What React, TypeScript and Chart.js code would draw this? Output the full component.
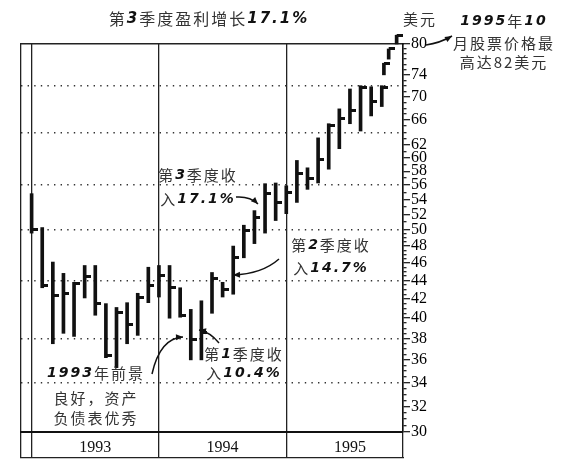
import React, { useEffect, useRef } from 'react';
import { Chart, registerables } from 'chart.js';

Chart.register(...registerables);

// Month index 0 = Jan 1993
const monthIndex = [
  0, 1, 2, 3, 4, 5, 6, 7, 8, 9, 10, 11,
  12, 13, 14, 15, 16, 17, 18, 19, 20, 21, 22, 23,
  24, 25, 26, 27, 28, 29, 30, 31, 32, 33,
];
const highs = [
  54.8, 50.3, 46.1, 44.8, 43.8, 45.7, 45.7, 41.5, 41.1, 41.6, 42.6, 45.5,
  45.7, 45.7, 43.2, 40.9, 41.8, 44.9, 43.8, 48.0, 50.6, 52.5, 56.2, 56.3,
  55.9, 59.6, 58.5, 63.1, 65.4, 67.9, 71.4, 72.0, 71.8, 72.0,
];
const lows = [
  49.6, 43.2, 37.5, 38.5, 38.2, 42.1, 40.3, 36.2, 35.3, 37.5, 38.3, 41.6,
  42.2, 40.0, 40.1, 36.0, 36.0, 40.5, 42.2, 42.5, 46.6, 48.3, 49.6, 51.2,
  52.1, 53.6, 55.4, 56.3, 58.3, 61.4, 65.4, 64.2, 66.7, 68.3,
];
const closes = [
  50.0, 43.5, 42.4, 42.6, 43.7, 44.5, 41.5, 36.4, 40.6, 39.4, 42.2, 43.5,
  44.6, 43.2, 40.3, 37.9, 38.6, 44.2, 43.0, 46.6, 49.9, 51.6, 54.8, 53.6,
  54.9, 57.6, 56.9, 59.7, 65.1, 66.2, 67.6, 71.6, 69.1, 71.6,
];
// late October 1995 run-up to 82
const lateX = [33.2, 33.65, 34.4];
const lateHigh = [76.2, 79.0, 81.8];
const lateLow = [74.0, 77.0, 80.0];
const lateClose = [76.2, 79.0, 81.8];

const yearLabels = ['1993', '1994', '1995'];
const yearCenters = [6, 18, 30];
const yearDividers = [-1, 0, 12, 24, 35];

const yLabelValues = [30, 32, 34, 36, 38, 40, 42, 44, 46, 48, 50, 52, 54, 56, 58, 60, 62, 66, 70, 74, 80];
const yGridValues = [34, 38, 44, 50, 56, 64, 72];

function buildYTicks(): number[] {
  const out: number[] = [];
  for (let v = 30; v < 50; v += 0.5) out.push(v);
  for (let v = 50; v <= 80; v += 1) out.push(v);
  return out;
}

type Ann = { lines: string[]; cx: number; ys: number[]; size: number; plain?: boolean[] };
const annotations: Ann[] = [
  { lines: ['第3季度盈利增长17.1%'], cx: 208, ys: [19], size: 16 },
  { lines: ['美元'], cx: 419, ys: [19], size: 15 },
  { lines: ['1995年10', '月股票价格最', '高达82美元'], cx: 503, ys: [21, 43, 62], size: 15, plain: [false, false, true] },
  { lines: ['第3季度收', '入17.1%'], cx: 197, ys: [175, 199], size: 15 },
  { lines: ['第2季度收', '入14.7%'], cx: 330, ys: [245, 268], size: 15 },
  { lines: ['第1季度收', '入10.4%'], cx: 243, ys: [354, 373], size: 15 },
  { lines: ['1993年前景', '良好，资产', '负债表优秀'], cx: 95, ys: [373, 398, 418], size: 15 },
];

type Arrow = { from: [number, number]; ctrl: [number, number]; to: [number, number] };
const arrows: Arrow[] = [
  { from: [426, 45], ctrl: [440, 43], to: [452, 36] },
  { from: [236, 197], ctrl: [250, 196], to: [258, 204] },
  { from: [279, 259], ctrl: [262, 274], to: [233, 275] },
  { from: [219, 343], ctrl: [210, 332], to: [199, 330] },
  { from: [152, 374], ctrl: [160, 338], to: [183, 337] },
];

function drawTextLine(ctx: CanvasRenderingContext2D, s: string, cx: number, cy: number, size: number, plain: boolean) {
  const cjkFont = `${size}px "Noto Sans CJK SC"`;
  const digFont = `italic bold ${size - 1}px "DejaVu Sans"`;
  const spacing = 2;
  const chars = Array.from(s).map((ch) => {
    const d = !plain && /[0-9.%]/.test(ch);
    ctx.font = d ? digFont : cjkFont;
    return { ch, d, w: ctx.measureText(ch).width };
  });
  const total = chars.reduce((a, c) => a + c.w, 0) + spacing * (chars.length - 1);
  let x = cx - total / 2;
  ctx.textBaseline = 'middle';
  ctx.textAlign = 'left';
  for (const c of chars) {
    ctx.font = c.d ? digFont : cjkFont;
    ctx.fillStyle = c.d ? '#111' : '#333';
    ctx.fillText(c.ch, x, cy);
    x += c.w + spacing;
  }
}

const annotationPlugin = {
  id: 'annotationPlugin',
  afterDraw(chart: any) {
    const ctx: CanvasRenderingContext2D = chart.ctx;
    ctx.save();
    for (const a of annotations) {
      a.lines.forEach((line, i) => drawTextLine(ctx, line, a.cx, a.ys[i], a.size, !!(a.plain && a.plain[i])));
    }
    ctx.strokeStyle = '#111';
    ctx.fillStyle = '#111';
    ctx.lineWidth = 1.5;
    for (const ar of arrows) {
      ctx.beginPath();
      ctx.moveTo(ar.from[0], ar.from[1]);
      ctx.quadraticCurveTo(ar.ctrl[0], ar.ctrl[1], ar.to[0], ar.to[1]);
      ctx.stroke();
      const ang = Math.atan2(ar.to[1] - ar.ctrl[1], ar.to[0] - ar.ctrl[0]);
      const L = 7, W = 3;
      ctx.beginPath();
      ctx.moveTo(ar.to[0], ar.to[1]);
      ctx.lineTo(ar.to[0] - L * Math.cos(ang) + W * Math.sin(ang), ar.to[1] - L * Math.sin(ang) - W * Math.cos(ang));
      ctx.lineTo(ar.to[0] - L * Math.cos(ang) - W * Math.sin(ang), ar.to[1] - L * Math.sin(ang) + W * Math.cos(ang));
      ctx.closePath();
      ctx.fill();
    }
    ctx.restore();
  },
};

function makeTickCanvas(): HTMLCanvasElement {
  const c = document.createElement('canvas');
  c.width = 12;
  c.height = 3;
  const g = c.getContext('2d')!;
  g.fillStyle = '#111';
  g.fillRect(6, 0, 6, 3);
  return c;
}

export default function App() {
  const ref = useRef<HTMLCanvasElement | null>(null);
  useEffect(() => {
    if (!ref.current) return;
    const yTicks = buildYTicks();
    const yLabelSet = new Set(yLabelValues);
    const yGridSet = new Set(yGridValues);
    const dividerSet = new Set(yearDividers);
    const xTickValues = [...yearDividers, ...yearCenters].sort((a, b) => a - b);

    const barData = monthIndex
      .map((m, i) => ({ x: m, y: [lows[i], highs[i]] }))
      .concat(lateX.map((m, i) => ({ x: m, y: [lateLow[i], lateHigh[i]] })));
    const closeData = monthIndex
      .map((m, i) => ({ x: m, y: closes[i] }))
      .concat(lateX.map((m, i) => ({ x: m, y: lateClose[i] })));

    const chart = new Chart(ref.current, {
      type: 'bar',
      data: {
        datasets: [
          {
            type: 'bar',
            data: barData as any,
            backgroundColor: '#111',
            borderWidth: 0,
            barThickness: 3,
            clip: false as any,
          },
          {
            type: 'scatter',
            data: closeData as any,
            pointStyle: makeTickCanvas() as any,
            pointRadius: 20,
            clip: false as any,
          } as any,
        ],
      },
      options: {
        animation: false,
        responsive: false,
        devicePixelRatio: 1,
        events: [],
        layout: { padding: { left: 12, right: 0, top: 44, bottom: 7 } },
        plugins: { legend: { display: false }, tooltip: { enabled: false }, title: { display: false } },
        scales: {
          x: {
            type: 'linear',
            position: 'bottom',
            min: -1,
            max: 35,
            offset: false,
            afterBuildTicks: (s: any) => {
              s.ticks = xTickValues.map((v) => ({ value: v }));
            },
            afterFit: (s: any) => {
              s.height = 26;
            },
            ticks: {
              autoSkip: false,
              maxRotation: 0,
              padding: -19.5,
              font: { family: 'Liberation Serif', size: 16 },
              color: '#111',
              callback: (v: any) => {
                const i = yearCenters.indexOf(Number(v));
                return i >= 0 ? yearLabels[i] : '';
              },
            },
            grid: {
              offset: false,
              color: (c: any) => (dividerSet.has(c.tick?.value) ? '#222' : 'rgba(0,0,0,0)'),
              tickColor: (c: any) => (dividerSet.has(c.tick?.value) ? '#222' : 'rgba(0,0,0,0)'),
              lineWidth: 1.3,
              tickWidth: 1.3,
              tickLength: 26,
              drawTicks: true,
            },
            border: { display: true, color: '#111', width: 2 },
          },
          xBand: {
            type: 'linear',
            position: 'bottom',
            min: 0,
            max: 1,
            offset: false,
            afterFit: (s: any) => {
              s.height = 0;
            },
            ticks: { display: false },
            grid: { display: false },
            border: { display: true, color: '#222', width: 1.3 },
          },
          xTop: {
            type: 'linear',
            position: 'top',
            min: 0,
            max: 1,
            offset: false,
            afterFit: (s: any) => {
              s.height = 0;
            },
            ticks: { display: false },
            grid: { display: false },
            border: { display: true, color: '#222', width: 1.5 },
          },
          y: {
            type: 'logarithmic',
            position: 'right',
            min: 30,
            max: 80,
            afterBuildTicks: (s: any) => {
              s.ticks = yTicks.map((v) => ({ value: v }));
            },
            afterFit: (s: any) => {
              s.width = 163;
            },
            ticks: {
              autoSkip: false,
              padding: 1,
              font: { family: 'Liberation Serif', size: 16 },
              color: '#000',
              callback: (v: any) => (yLabelSet.has(Number(v)) ? String(v) : ''),
            },
            grid: {
              color: (c: any) => (yGridSet.has(c.tick?.value) ? '#333' : 'rgba(0,0,0,0)'),
              lineWidth: 1.4,
              drawTicks: true,
              tickLength: 7,
              tickColor: '#111',
              tickWidth: 1.2,
              tickBorderDash: (c: any) => (yLabelSet.has(c.tick?.value) ? [] : [3, 30]),
            },
            border: { display: true, color: '#111', width: 1.5, dash: [1.4, 5.2] },
          },
        } as any,
      },
      plugins: [annotationPlugin],
    });
    return () => chart.destroy();
  }, []);

  return (
    <div style={{ position: 'fixed', left: 0, top: 0, width: 566, height: 465, background: '#fff' }}>
      <canvas ref={ref} width={566} height={465} style={{ width: 566, height: 465, display: 'block' }} />
    </div>
  );
}
